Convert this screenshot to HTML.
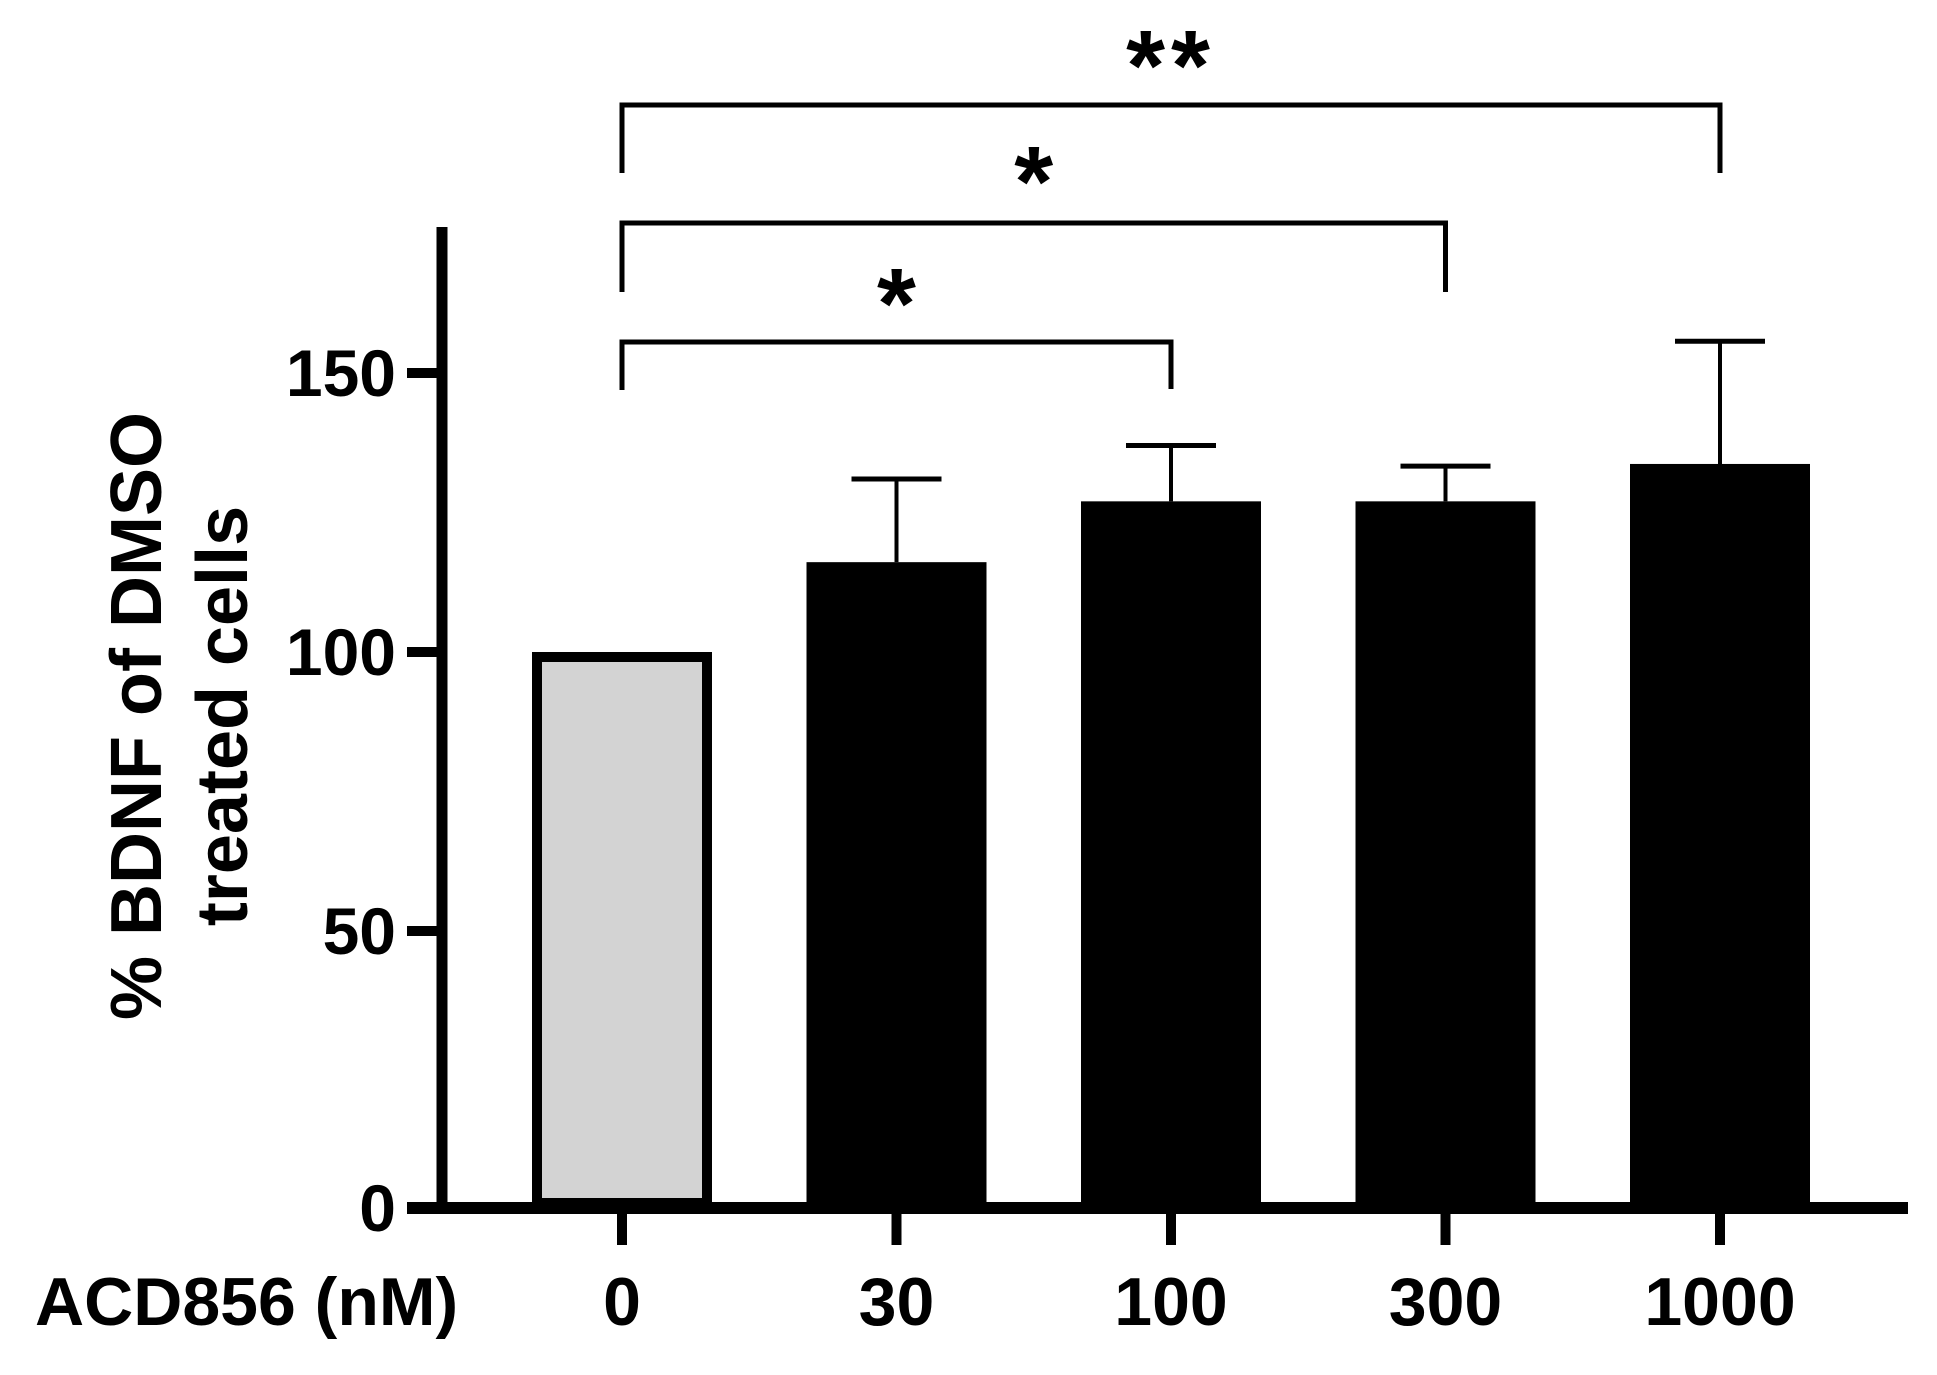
<!DOCTYPE html>
<html><head><meta charset="utf-8"><style>
html,body{margin:0;padding:0;background:#fff;}
svg{display:block;font-family:"Liberation Sans",Arial,sans-serif;font-weight:bold;}
</style></head><body>
<svg id="chart" width="1937" height="1375" viewBox="0 0 1937 1375" xmlns="http://www.w3.org/2000/svg">
<g id="axes"></g>
<g id="bars"></g>
<g id="sig"></g>
<text transform="translate(161,716) rotate(-90)" text-anchor="middle" font-size="72">% BDNF of DMSO</text>
<text transform="translate(247,716) rotate(-90)" text-anchor="middle" font-size="72">treated cells</text>
<text x="35" y="1325" font-size="68">ACD856 (nM)</text>
</svg>
<script>
const categories = ["0","30","100","300","1000"];
const means = [100, 116.1, 127, 127, 133.7];
const errors = [0, 14.9, 10, 6.3, 22];
const yTicks = [0, 50, 100, 150];
const brackets = [[0,4,"**"],[0,3,"*"],[0,2,"*"]];

const NS="http://www.w3.org/2000/svg";
const y0=1210, ppu=5.58;
function yScale(v){return y0 - v*ppu;}
function xScale(i){return 622 + i*274.5;}
function mk(tag, attrs, parent){const e=document.createElementNS(NS,tag);for(const k in attrs)e.setAttribute(k,attrs[k]);parent.appendChild(e);return e;}
const axes=document.getElementById('axes'), bars=document.getElementById('bars'), sig=document.getElementById('sig');

const bw=180;
means.forEach((m,i)=>{
  const cx=xScale(i);
  if(i===0){
    const r=mk('rect',{x:cx-bw/2+5,y:yScale(m)+5,width:bw-10,height:y0-yScale(m)-12,fill:'#d3d3d3',stroke:'#000','stroke-width':10},bars);
    
    
  } else {
    const r=mk('rect',{x:cx-bw/2,y:yScale(m),width:bw,height:y0-yScale(m),fill:'#000'},bars);
    
    
    if(errors[i]>0){
      const top=yScale(m+errors[i]);
      const l=mk('line',{x1:cx,x2:cx,y1:yScale(m),y2:top,stroke:'#000','stroke-width':4},bars);
      
      
      const c=mk('line',{x1:cx-45,x2:cx+45,y1:top,y2:top,stroke:'#000','stroke-width':5},bars);
      
      
    }
  }
});

const ya=mk('line',{x1:442,x2:442,y1:227,y2:1214,stroke:'#000','stroke-width':11},axes);


const xa=mk('line',{x1:407,x2:1908,y1:1208,y2:1208,stroke:'#000','stroke-width':12},axes);


yTicks.forEach(t=>{
  const y=t===0?1208:yScale(t);
  const tk=mk('line',{x1:407,x2:442,y1:y,y2:y,stroke:'#000','stroke-width':10},axes);
  
  
  const tx=mk('text',{x:396,y:y+23,'text-anchor':'end','font-size':66},axes);
  tx.textContent=t;
  
  
});
categories.forEach((c,i)=>{
  const x=xScale(i);
  const tk=mk('line',{x1:x,x2:x,y1:1208,y2:1245,stroke:'#000','stroke-width':10},axes);
  
  
  const tx=mk('text',{x:x,y:1325,'text-anchor':'middle','font-size':68},axes);
  tx.textContent=c;
  
  
});

const byY=[105,223,342], legL=[173,292,390], legR=[173,292,389], starY=[42,158,280];
brackets.forEach((b,k)=>{
  const x1=xScale(b[0]), x2=xScale(b[1]);
  const p=mk('path',{d:`M${x1},${legL[k]} V${byY[k]} H${x2} V${legR[k]}`,fill:'none',stroke:'#000','stroke-width':5},sig);
  
  
  const mid=(x1+x2)/2;
  const tx=mk('text',{x:mid,y:starY[k]+58,'text-anchor':'middle','font-size':100,'letter-spacing':b[2].length>1?'6':'0'},sig);
  tx.textContent=b[2];
  
  
});
</script>
</body></html>
